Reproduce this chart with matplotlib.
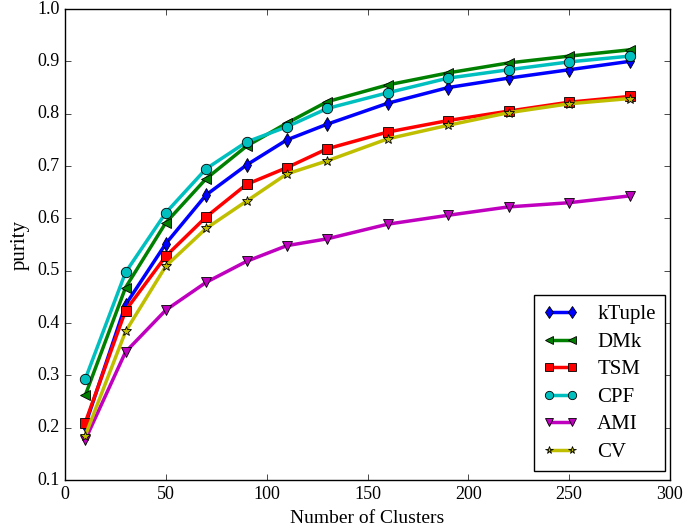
import matplotlib
matplotlib.use("Agg")
import matplotlib.pyplot as plt

plt.style.use('classic')
plt.rcParams['font.family'] = ['Liberation Serif', 'DejaVu Serif']

clusters = [10, 30, 50, 70, 90, 110, 130, 160, 190, 220, 250, 280]
ktuple = [0.205, 0.435, 0.552, 0.645, 0.702, 0.750, 0.780, 0.820, 0.850, 0.868, 0.884, 0.900]
dmk = [0.262, 0.468, 0.592, 0.676, 0.738, 0.782, 0.823, 0.855, 0.878, 0.897, 0.910, 0.922]
tsm = [0.210, 0.424, 0.528, 0.603, 0.665, 0.697, 0.733, 0.765, 0.787, 0.805, 0.822, 0.833]
cpf = [0.293, 0.497, 0.611, 0.695, 0.746, 0.775, 0.810, 0.840, 0.868, 0.884, 0.899, 0.910]
ami = [0.177, 0.345, 0.425, 0.478, 0.518, 0.548, 0.561, 0.589, 0.606, 0.622, 0.630, 0.643]
cv = [0.185, 0.384, 0.509, 0.581, 0.633, 0.685, 0.710, 0.752, 0.778, 0.802, 0.819, 0.829]

fig = plt.figure(figsize=(6.85, 5.3), dpi=100, facecolor='white')
ax = fig.add_axes([0.095, 0.094, 0.883, 0.889])

series = [
    ('kTuple', ktuple, 'b', 'd', 7.5),
    ('DMk', dmk, 'g', '<', 7.5),
    ('TSM', tsm, 'r', 's', 7.5),
    ('CPF', cpf, 'c', 'o', 7.5),
    ('AMI', ami, 'm', 'v', 7.5),
    ('CV', cv, 'y', '*', 7),
]
for name, vals, col, mk, ms in series:
    ax.plot(clusters, vals, color=col, marker=mk, markersize=ms, lw=2.5,
            markeredgecolor='k', markeredgewidth=0.6, label=name)

ax.set_xlim(0, 300)
ax.set_ylim(0.1, 1.0)
ax.set_xticks([0, 50, 100, 150, 200, 250, 300])
ax.set_yticks([0.1, 0.2, 0.3, 0.4, 0.5, 0.6, 0.7, 0.8, 0.9, 1.0])
ax.set_xlabel('Number of Clusters', fontsize=14)
ax.set_ylabel('purity', fontsize=15)
ax.tick_params(labelsize=13)
leg = ax.legend(loc='lower right', bbox_to_anchor=(0.992, 0.019), borderaxespad=0,
                fontsize=15, numpoints=2, fancybox=False, handlelength=1.7,
                markerscale=0.8, labelspacing=0.38, handletextpad=0.9,
                borderpad=0.45)

fig.savefig('out.png', dpi=100, facecolor='white')
